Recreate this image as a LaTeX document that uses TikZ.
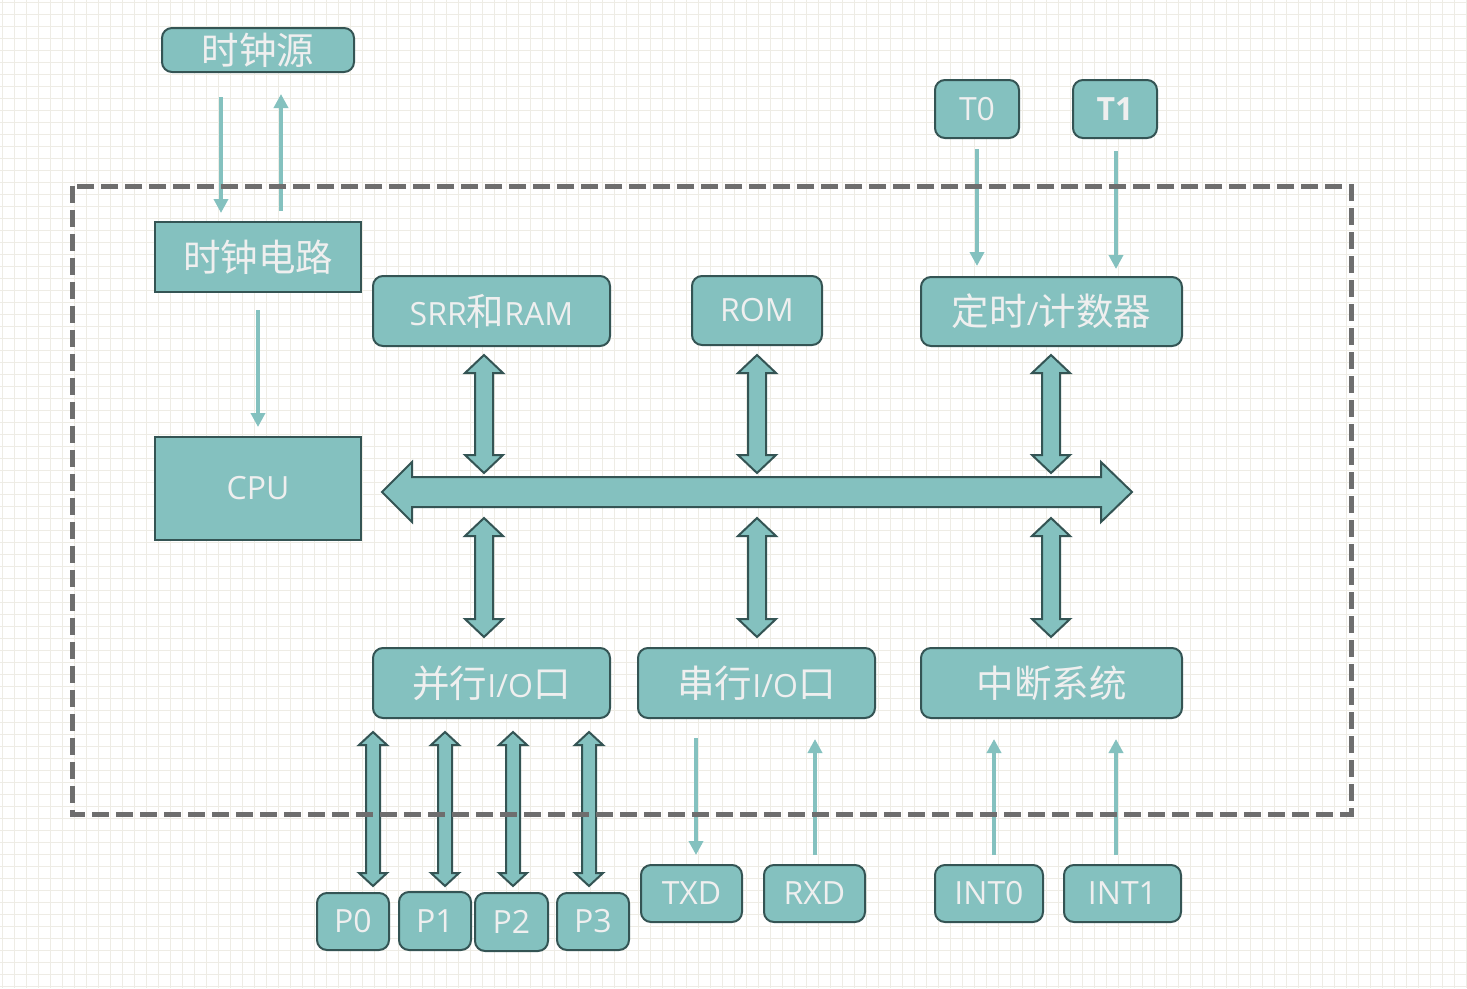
\documentclass[tikz,border=0pt]{standalone}
\usepackage{fontspec}
\setmainfont{Open Sans}
\newfontfamily\cjk{Noto Sans CJK SC}
\usetikzlibrary{arrows.meta}
\definecolor{tealfill}{HTML}{84C1BF}
\definecolor{tealline}{HTML}{345454}
\definecolor{txtc}{HTML}{EFEFEF}
\definecolor{gridc}{HTML}{EEECE5}
\definecolor{dashc}{HTML}{6E6E6E}
\tikzset{
 box/.style={draw=tealline, fill=tealfill, line width=2pt, text=txtc, inner sep=0pt, font=\fontsize{32}{36}\selectfont},
 rbox/.style={box, rounded corners=10pt},
 tarrow/.style={draw=tealfill, line width=4.5pt, -{Triangle[width=14pt,length=14pt]}},
 barrow/.style={draw=tealline, fill=tealfill, line width=2pt, line join=miter},
 frame/.style={draw=dashc, line width=5pt, dash pattern=on 17pt off 7pt},
}
\newcommand{\cj}[1]{{\cjk\fontsize{37.5}{40}\selectfont #1}}
% vertical double block arrow: x, ytop, ybot, shaft half, head half, head length
\newcommand{\myvba}[6]{\draw[barrow] (#1,#2) -- ({#1+#5},{#2+#6}) -- ({#1+#4},{#2+#6}) -- ({#1+#4},{#3-#6}) -- ({#1+#5},{#3-#6}) -- (#1,#3) -- ({#1-#5},{#3-#6}) -- ({#1-#4},{#3-#6}) -- ({#1-#4},{#2+#6}) -- ({#1-#5},{#2+#6}) -- cycle;}
\begin{document}
\begin{tikzpicture}[x=1pt,y=-1pt]
\useasboundingbox (0,0) rectangle (1467,988);
\fill[white] (0,0) rectangle (1467,988);
\foreach \k in {0,...,122} \draw[gridc, line width=1.5pt] ({2.7+12*\k},0) -- ({2.7+12*\k},988);
\foreach \k in {0,...,82} \draw[gridc, line width=1.5pt] (0,{2.7+12*\k}) -- (1467,{2.7+12*\k});

% nodes
\tikzset{txt/.style={yshift=-1.5pt}}
\node[rbox, minimum width=192pt, minimum height=44pt] (clksrc) at (258,50) {\cj{时钟源}};
\node[box, minimum width=206pt, minimum height=70pt] (clk) at (258,257) {\cj{时钟电路}};
\node[box, minimum width=206pt, minimum height=103pt] (cpu) at (258,488.5) {CPU};
\node[rbox, minimum width=237pt, minimum height=70pt] (sram) at (491.5,311) {SRR\cj{和}RAM};
\node[rbox, minimum width=130pt, minimum height=69pt] (rom) at (757,310.5) {ROM};
\node[rbox, minimum width=261pt, minimum height=69pt] (timer) at (1051.5,311.5) {\cj{定时}/\cj{计数器}};
\node[rbox, minimum width=84pt, minimum height=58pt] (t0) at (977,109) {T0};
\node[rbox, minimum width=84pt, minimum height=58pt] (t1) at (1115,109) {\textbf{T1}};
\node[rbox, minimum width=237pt, minimum height=70pt] (pio) at (491.5,683) {\cj{并行}I/O\cj{口}};
\node[rbox, minimum width=237pt, minimum height=70pt] (sio) at (756.5,683) {\cj{串行}I/O\cj{口}};
\node[rbox, minimum width=261pt, minimum height=70pt] (irq) at (1051.5,683) {\cj{中断系统}};
\node[rbox, minimum width=72pt, minimum height=57pt] (p0) at (353,921.5) {P0};
\node[rbox, minimum width=72pt, minimum height=58pt] (p1) at (435,921) {P1};
\node[rbox, minimum width=73pt, minimum height=58pt] (p2) at (511.5,922) {P2};
\node[rbox, minimum width=72pt, minimum height=57pt] (p3) at (593,921.5) {P3};
\node[rbox, minimum width=101pt, minimum height=57pt] (txd) at (691.5,893.5) {TXD};
\node[rbox, minimum width=101pt, minimum height=57pt] (rxd) at (814.5,893.5) {RXD};
\node[rbox, minimum width=108pt, minimum height=57pt] (int0) at (989,893.5) {INT0};
\node[rbox, minimum width=117pt, minimum height=57pt] (int1) at (1122.5,893.5) {INT1};

% thin arrows
\draw[tarrow] ([shift={(-37,24)}]clksrc.south) -- ([shift={(-37,-8)}]clk.north);
\draw[tarrow] ([shift={(23,-10)}]clk.north) -- ([shift={(23,21)}]clksrc.south);
\draw[tarrow] ([shift={(0,17)}]clk.south) -- ([shift={(0,-9)}]cpu.north);
\draw[tarrow] ([shift={(0,10)}]t0.south) -- ([shift={(-74.5,-10)}]timer.north);
\draw[tarrow] ([shift={(1,12)}]t1.south) -- ([shift={(64.5,-7)}]timer.north);
\draw[tarrow] ([shift={(-60.5,19)}]sio.south) -- ([shift={(4.5,-9)}]txd.north);
\draw[tarrow] ([shift={(0.5,-9)}]rxd.north) -- ([shift={(58.5,20)}]sio.south);
\draw[tarrow] ([shift={(5,-9)}]int0.north) -- ([shift={(-57.5,20)}]irq.south);
\draw[tarrow] ([shift={(-6.5,-9)}]int1.north) -- ([shift={(64.5,20)}]irq.south);

% bus
\draw[barrow] (382,492) -- (412,462) -- (412,477) -- (1101,477) -- (1101,462) -- (1132,492) -- (1101,522) -- (1101,507) -- (412,507) -- (412,522) -- cycle;
% vertical block arrows
\myvba{484}{355}{473}{9}{19}{18}
\myvba{757}{355}{473}{9}{19}{18}
\myvba{1051}{355}{473}{9}{19}{18}
\myvba{484}{518}{637}{9}{19}{18}
\myvba{757}{518}{637}{9}{19}{18}
\myvba{1051}{518}{637}{9}{19}{18}
% port arrows
\myvba{373}{732}{886}{7}{14}{13}
\myvba{445}{732}{886}{7}{14}{13}
\myvba{513}{732}{886}{7}{14}{13}
\myvba{589}{732}{886}{7}{14}{13}

% dashed frame
\draw[frame] (72,186) rectangle (1351,814);
\end{tikzpicture}
\end{document}
